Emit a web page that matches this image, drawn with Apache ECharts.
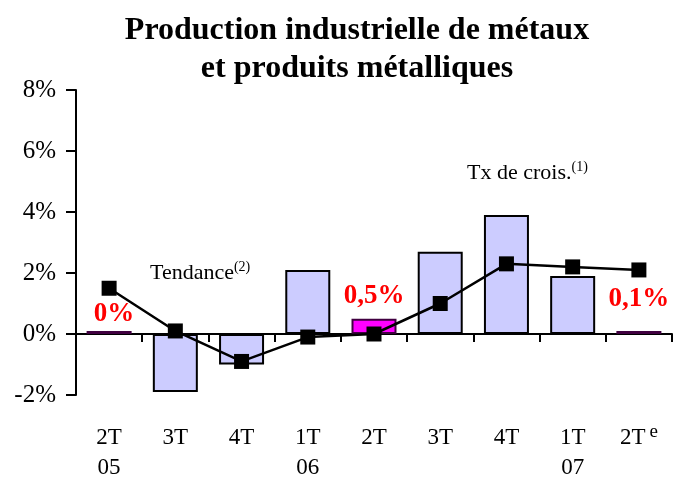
<!DOCTYPE html>
<html>
<head>
<meta charset="utf-8">
<script src="https://cdn.jsdelivr.net/npm/echarts@6/dist/echarts.min.js"></script>
<style>
  html, body { margin: 0; padding: 0; background: #fff; }
  #chart { width: 674px; height: 477px; }
</style>
</head>
<body>
<div id="chart"></div>
<script>
const quarters = ["2T", "3T", "4T", "1T", "2T", "3T", "4T", "1T", "2T"]
const years = ["05", "", "", "06", "", "", "", "07", ""]
const growth = [0.1, -1.9, -1.0, 2.1, 0.5, 2.7, 3.9, 1.9, 0.1]
const trend = [1.5, 0.1, -0.9, -0.1, 0.0, 1.0, 2.3, 2.2, 2.1]
const highlighted = [true, false, false, false, true, false, false, false, true]
const barLabels = ["0%", "", "", "", "0,5%", "", "", "", "0,1%"]
const yTicks = [-2, 0, 2, 4, 6, 8]

const serif = "Liberation Serif"
const labelDist = [3, 0, 0, 0, 9, 0, 0, 0, 18]

const chart = echarts.init(document.getElementById("chart"))

const barData = growth.map((v, i) => ({
  value: v,
  itemStyle: highlighted[i]
    ? { color: "#FF00FF", borderColor: "#400040", borderWidth: 2 }
    : { color: "#CCCCFF", borderColor: "#000", borderWidth: 2 },
  label: {
    show: barLabels[i] !== "",
    position: "top",
    distance: labelDist[i],
    offset: i === 0 ? [5, 0] : [0, 0],
    formatter: barLabels[i],
    color: "#FF0000",
    fontFamily: serif,
    fontWeight: "bold",
    fontSize: 27
  }
}))

const supStyle = { fontFamily: serif, fontSize: 14, verticalAlign: "top", padding: [0, 0, 12, 0] }

const option = {
  animation: false,
  title: {
    text: "Production industrielle de métaux\net produits métalliques",
    left: 352,
    textAlign: "center",
    top: 7,
    textStyle: {
      fontFamily: serif,
      fontWeight: "bold",
      fontSize: 32,
      lineHeight: 38,
      color: "#000"
    }
  },
  grid: { left: 76, right: 2, top: 90, bottom: 82, outerBoundsMode: "none" },
  xAxis: [
    {
      type: "category",
      data: quarters,
      axisLine: { onZero: true, lineStyle: { color: "#000", width: 2 } },
      axisTick: { show: true, length: 8, lineStyle: { color: "#000", width: 2 } },
      axisLabel: { show: false },
      splitLine: { show: false }
    },
    {
      type: "category",
      position: "bottom",
      data: quarters.map((q, i) => i === quarters.length - 1 ? q + "{e|e}\n" + years[i] : q + "\n" + years[i]),
      axisLine: { show: false, onZero: false },
      axisTick: { show: false },
      axisLabel: {
        interval: 0,
        margin: 28,
        color: "#000",
        fontFamily: serif,
        fontSize: 23,
        lineHeight: 30,
        rich: {
          e: { fontFamily: serif, fontSize: 19, color: "#000", verticalAlign: "top", padding: [0, 0, 14, 4] }
        }
      }
    }
  ],
  yAxis: {
    type: "value",
    min: yTicks[0],
    max: yTicks[yTicks.length - 1],
    interval: 2,
    axisLine: { show: true, lineStyle: { color: "#000", width: 2 } },
    axisTick: { show: true, length: 10, lineStyle: { color: "#000", width: 2 } },
    axisLabel: {
      margin: 20,
      formatter: "{value}%",
      color: "#000",
      fontFamily: serif,
      fontSize: 25
    },
    splitLine: { show: false }
  },
  series: [
    {
      type: "bar",
      data: barData,
      barWidth: 45,
      xAxisIndex: 0
    },
    {
      type: "line",
      data: trend,
      xAxisIndex: 0,
      symbol: "rect",
      symbolSize: 15,
      itemStyle: { color: "#000" },
      lineStyle: { color: "#000", width: 2.5 },
      z: 5
    }
  ],
  graphic: [
    {
      type: "text",
      left: 150,
      top: 260,
      style: {
        text: "Tendance{s|(2)}",
        fontFamily: serif,
        fontSize: 22,
        fill: "#000",
        rich: { s: supStyle }
      }
    },
    {
      type: "text",
      left: 467,
      top: 160,
      style: {
        text: "Tx de crois.{s|(1)}",
        fontFamily: serif,
        fontSize: 22,
        fill: "#000",
        rich: { s: supStyle }
      }
    }
  ]
}

chart.setOption(option)
</script>
</body>
</html>
